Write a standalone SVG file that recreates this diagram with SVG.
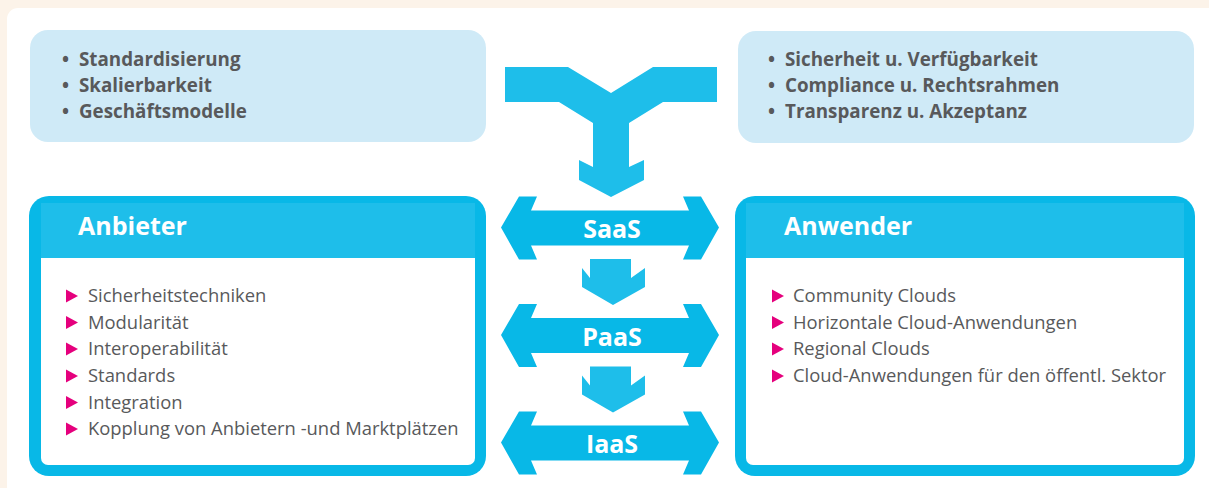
<svg xmlns="http://www.w3.org/2000/svg" width="1209" height="488" viewBox="0 0 1209 488">
<style>
.bg{fill:#fcf3e9}
.panel{fill:#ffffff}
.topbox{fill:#cfeaf7}
.topt{font-family:"Open Sans","Liberation Sans",sans-serif;font-weight:bold;font-size:18.8px;fill:#58595b}
.frame{fill:#08b8e7}
.head{fill:#1ebeea}
.inner{fill:#ffffff}
.htxt{font-family:"Open Sans","Liberation Sans",sans-serif;font-weight:bold;font-size:25px;fill:#ffffff}
.item{font-family:"Open Sans","Liberation Sans",sans-serif;font-size:18.4px;fill:#58595b}
.tri{fill:#e5007d}
.darr{fill:#08b8e7}
.down{fill:#1ebeea}
.atxt{font-family:"Open Sans","Liberation Sans",sans-serif;font-weight:bold;font-size:25px;fill:#ffffff;text-anchor:middle}
</style>
<defs>
<path id="tri" d="M0,-6.5 L12,0 L0,6.5 Z"/>
<path id="dbl" d="M0,0 L18,-31 L36,-31 L30,-17 L188,-17 L182,-31 L200,-31 L218,0 L200,32 L182,32 L188,18 L30,18 L36,32 L18,32 Z"/>
<path id="dn" d="M-22,0 L19,0 L19,19 L33,9 L33,28 L1,46 L-30,28 L-30,9 L-22,19 Z"/>
</defs>
<rect class="bg" x="0" y="0" width="1209" height="488"/>
<rect class="panel" x="7" y="8" width="1215" height="495" rx="11"/>

<g id="top-left">
<rect class="topbox" x="30" y="30" width="456" height="112" rx="18"/>
<text class="topt" x="62" y="66">•</text><text class="topt" x="79" y="66">Standardisierung</text>
<text class="topt" x="62" y="92">•</text><text class="topt" x="79" y="92">Skalierbarkeit</text>
<text class="topt" x="62" y="118">•</text><text class="topt" x="79" y="118">Geschäftsmodelle</text>
</g>

<g id="top-right">
<rect class="topbox" x="738" y="31" width="456" height="112" rx="18"/>
<text class="topt" x="768" y="66">•</text><text class="topt" x="785" y="66">Sicherheit u. Verfügbarkeit</text>
<text class="topt" x="768" y="92">•</text><text class="topt" x="785" y="92">Compliance u. Rechtsrahmen</text>
<text class="topt" x="768" y="118">•</text><text class="topt" x="785" y="118">Transparenz u. Akzeptanz</text>
</g>

<g id="anbieter">
<rect class="frame" x="29" y="196" width="457" height="280" rx="20"/>
<rect class="head" x="41" y="203" width="434" height="56"/>
<rect class="inner" x="41" y="258" width="434" height="207" rx="7"/>
<rect class="inner" x="41" y="258" width="434" height="20"/>
<text class="htxt" x="78" y="235">Anbieter</text>
<use href="#tri" class="tri" x="66" y="296"/><text class="item" x="88" y="302">Sicherheitstechniken</text>
<use href="#tri" class="tri" x="66" y="322.5"/><text class="item" x="88" y="328.5">Modularität</text>
<use href="#tri" class="tri" x="66" y="349"/><text class="item" x="88" y="355">Interoperabilität</text>
<use href="#tri" class="tri" x="66" y="376"/><text class="item" x="88" y="382">Standards</text>
<use href="#tri" class="tri" x="66" y="402.5"/><text class="item" x="88" y="408.5">Integration</text>
<use href="#tri" class="tri" x="66" y="429"/><text class="item" x="88" y="435">Kopplung von Anbietern -und Marktplätzen</text>
</g>

<g id="anwender">
<rect class="frame" x="735" y="196" width="460" height="280" rx="20"/>
<rect class="head" x="746" y="203" width="438" height="56"/>
<rect class="inner" x="746" y="258" width="438" height="207" rx="7"/>
<rect class="inner" x="746" y="258" width="438" height="20"/>
<text class="htxt" x="784" y="235">Anwender</text>
<use href="#tri" class="tri" x="772" y="296"/><text class="item" x="793" y="302">Community Clouds</text>
<use href="#tri" class="tri" x="772" y="322.5"/><text class="item" x="793" y="328.5">Horizontale Cloud-Anwendungen</text>
<use href="#tri" class="tri" x="772" y="349"/><text class="item" x="793" y="355">Regional Clouds</text>
<use href="#tri" class="tri" x="772" y="376"/><text class="item" x="793" y="382">Cloud-Anwendungen für den öffentl. Sektor</text>
</g>

<g id="connectors">
<polygon class="down" points="505,67 568,67 611,93 653,67 717,67 717,102 663,102 629,123 629,167 644,160 644,180 611,197 579,180 579,160 593,167 593,123 559,102 505,102"/>
<use href="#dn" class="down" x="612" y="259"/>
<use href="#dn" class="down" x="612" y="366.5"/>
</g>

<g id="saas">
<use href="#dbl" class="darr" x="501" y="227.5"/>
<text class="atxt" x="612" y="238">SaaS</text>
</g>
<g id="paas">
<use href="#dbl" class="darr" x="501" y="335"/>
<text class="atxt" x="612" y="345.5">PaaS</text>
</g>
<g id="iaas">
<use href="#dbl" class="darr" x="501" y="442.5"/>
<text class="atxt" x="612" y="453">IaaS</text>
</g>
</svg>
